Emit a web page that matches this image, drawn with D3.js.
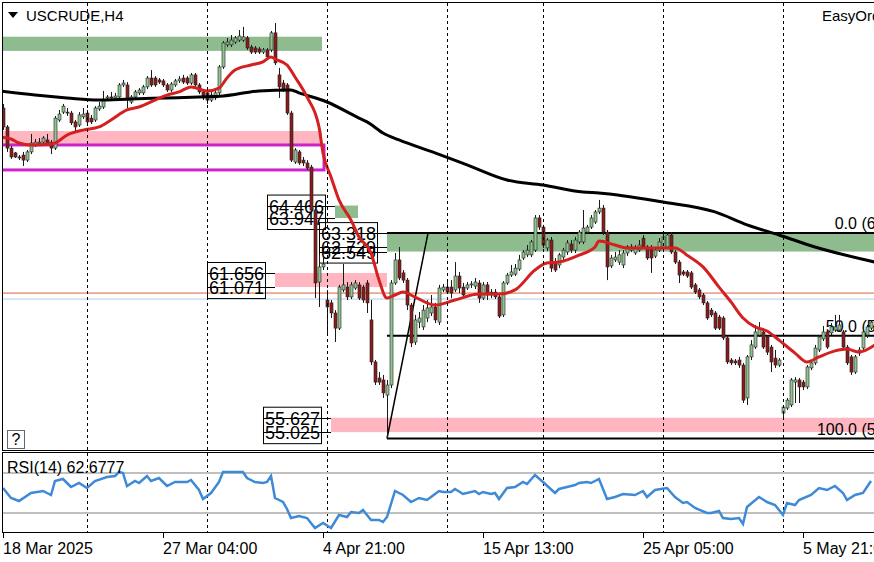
<!DOCTYPE html>
<html>
<head>
<meta charset="utf-8">
<script src="https://cdn.jsdelivr.net/npm/d3@7"></script>
<style>
body{margin:0;background:#fff}
svg{display:block;font-family:'Liberation Sans',Arial,sans-serif}
</style>
</head>
<body>
<svg width="874" height="562"></svg>
<script>
// USCRUDE H4 candles: [open, high, low, close]
var ohlc = [
[68.53,68.70,67.61,67.74],[67.74,67.82,66.70,66.86],[66.86,66.95,66.41,66.49],[66.66,66.70,66.45,66.49],[66.49,66.57,66.36,66.45],
[66.57,66.70,66.11,66.36],[66.36,66.78,66.28,66.70],[66.70,67.45,66.61,67.07],[66.99,67.24,66.91,67.11],[67.07,67.28,66.99,67.11],
[67.11,67.36,67.03,67.28],[67.20,67.45,66.99,67.07],[67.11,67.20,66.61,66.86],[66.86,68.20,66.78,68.11],[68.03,68.45,67.95,68.28],
[68.36,68.70,68.28,68.61],[68.36,68.53,68.20,68.32],[68.32,68.41,67.82,67.91],[67.95,68.03,67.57,67.74],[67.82,68.36,67.74,68.24],
[68.16,68.53,68.07,68.28],[68.32,68.45,67.82,67.95],[68.11,68.24,67.86,67.95],[68.03,68.61,67.95,68.53],[68.49,68.78,68.41,68.61],
[68.57,69.24,68.49,68.86],[68.95,69.07,68.86,68.99],[68.99,69.20,68.86,68.95],[68.95,69.16,68.91,69.03],[68.99,69.57,68.91,69.49],
[69.49,69.70,69.41,69.57],[69.49,69.61,68.53,68.86],[68.78,69.07,68.70,68.99],[68.99,69.28,68.91,69.20],[69.16,69.36,69.07,69.28],
[69.16,69.49,69.07,69.41],[69.41,69.86,69.32,69.78],[69.78,70.11,69.41,69.49],[69.78,69.86,69.41,69.49],[69.70,69.78,69.53,69.61],
[69.66,69.74,69.41,69.49],[69.49,69.57,69.20,69.28],[69.28,69.61,69.20,69.53],[69.49,69.74,69.41,69.66],[69.66,69.86,69.57,69.74],
[69.78,69.91,69.53,69.61],[69.78,69.86,69.49,69.57],[69.57,69.99,69.49,69.91],[69.91,69.99,69.41,69.49],[69.49,69.57,69.11,69.20],
[69.20,69.28,68.86,68.95],[69.16,69.28,68.70,68.86],[68.86,69.20,68.78,69.07],[68.95,69.28,68.86,69.16],[69.16,70.32,69.07,70.24],
[70.24,71.32,70.16,71.24],[71.16,71.45,71.07,71.28],[71.16,71.57,71.07,71.36],[71.28,71.53,71.20,71.45],[71.36,71.78,71.28,71.53],
[71.36,71.91,71.28,71.49],[71.45,71.53,70.95,71.03],[71.07,71.16,70.78,70.86],[71.03,71.11,70.78,70.86],[70.99,71.07,70.78,70.86],
[70.86,71.03,70.78,70.95],[70.95,71.03,70.57,70.66],[70.95,71.74,70.86,71.66],[71.66,72.07,70.32,70.41],[69.91,70.20,68.95,69.41],
[69.57,69.70,69.20,69.28],[69.49,69.57,68.24,68.32],[68.32,68.41,66.28,66.36],[66.28,66.86,66.20,66.78],[66.70,66.78,66.16,66.24],
[66.36,66.49,66.11,66.24],[66.24,66.36,65.95,66.03],[66.07,66.16,64.16,64.28],[64.28,64.36,60.61,61.24],[61.28,62.41,60.24,61.91],
[61.91,62.28,61.78,62.03],[60.53,60.95,59.07,60.24],[60.41,60.53,59.78,59.99],[59.99,60.11,58.78,59.36],[59.36,61.16,59.28,61.07],
[60.95,62.03,60.86,61.16],[61.07,61.28,60.53,60.66],[60.66,61.28,60.57,61.16],[61.03,61.36,60.95,61.24],[61.16,61.28,60.53,60.61],
[61.07,61.16,60.41,60.53],[61.24,61.36,59.99,60.41],[59.70,60.53,57.82,57.95],[57.95,58.03,56.99,57.11],[57.28,57.53,56.99,57.11],
[57.20,57.41,56.45,56.66],[56.57,57.20,54.78,56.99],[56.99,61.36,56.86,61.24],[61.24,62.49,61.16,62.20],[62.20,62.74,61.36,61.45],
[61.66,61.78,61.24,61.36],[61.36,61.45,60.11,60.32],[60.32,60.41,58.57,58.74],[58.78,59.91,58.66,59.70],[59.61,60.03,59.36,59.78],
[59.41,60.32,59.28,60.11],[59.78,60.53,59.61,60.20],[59.99,60.74,59.86,60.24],[60.24,60.41,59.57,59.70],[59.61,61.16,59.49,61.03],
[60.95,61.20,60.86,61.07],[61.07,61.28,60.78,60.86],[61.07,61.36,60.61,60.82],[60.95,62.11,60.86,61.53],[61.53,61.70,60.82,61.03],
[61.07,61.24,60.61,60.74],[61.03,61.28,60.95,61.16],[61.16,61.32,61.03,61.20],[61.11,61.45,60.99,61.28],[61.24,61.36,60.41,60.61],
[60.61,61.28,60.53,61.16],[61.16,61.28,60.53,60.74],[60.86,60.99,60.61,60.74],[60.86,60.99,60.57,60.66],[60.66,60.82,59.78,59.86],
[59.91,61.32,59.82,61.24],[61.24,61.66,61.16,61.57],[61.57,61.99,61.49,61.70],[61.61,62.03,61.53,61.86],[61.82,62.41,61.74,62.20],
[62.28,62.61,62.20,62.53],[62.41,62.82,62.32,62.61],[62.41,63.03,62.32,62.95],[62.61,64.07,62.53,63.95],[63.95,64.07,63.45,63.57],
[63.57,63.66,62.70,62.82],[62.70,63.11,62.57,63.03],[63.03,63.16,61.70,61.86],[62.11,62.28,61.70,61.78],[61.99,62.49,61.86,62.41],
[62.32,62.70,62.20,62.61],[62.53,63.03,62.41,62.91],[62.86,63.03,62.49,62.61],[62.61,63.16,62.49,63.03],[62.95,63.45,62.86,63.36],
[62.95,64.28,62.86,63.53],[63.36,63.66,63.28,63.57],[63.57,64.07,63.49,63.95],[63.78,64.28,63.70,64.20],[64.20,64.70,64.11,64.36],
[64.36,64.49,63.24,63.36],[63.36,63.45,61.36,61.91],[61.95,62.41,61.86,62.28],[62.20,62.53,62.11,62.32],[62.11,62.61,61.99,62.41],
[61.99,62.61,61.86,62.49],[62.49,62.82,62.36,62.74],[62.61,62.86,62.53,62.74],[62.49,62.82,62.41,62.70],[62.61,63.03,62.53,62.82],
[63.11,63.24,62.66,62.74],[62.74,62.82,62.20,62.28],[62.70,62.82,61.66,62.28],[62.36,62.70,62.28,62.61],[62.61,63.11,62.53,62.95],
[62.70,63.32,62.61,63.16],[62.74,63.36,62.66,63.24],[63.24,63.36,62.45,62.53],[62.53,62.61,62.03,62.11],[62.11,62.20,61.24,61.57],
[61.70,61.78,61.53,61.61],[61.70,61.78,61.45,61.53],[61.66,61.74,60.99,61.07],[61.16,61.24,60.78,60.86],[60.95,61.03,60.57,60.66],
[60.74,60.82,60.32,60.41],[60.41,60.49,59.70,59.78],[60.11,60.20,59.82,59.91],[59.99,60.07,59.28,59.36],[59.82,59.91,59.28,59.36],
[59.78,59.86,58.86,58.95],[58.95,59.03,57.86,57.95],[58.03,58.11,57.82,57.91],[57.99,58.07,57.82,57.91],[58.03,58.16,57.70,57.82],
[57.82,57.91,56.24,56.36],[56.45,58.24,56.16,58.16],[58.16,58.86,58.03,58.66],[58.57,59.49,58.49,59.20],[59.07,59.61,58.99,59.36],
[59.20,59.36,58.49,58.57],[58.99,59.07,58.24,58.36],[58.57,58.66,57.53,57.95],[58.11,58.45,57.70,57.82],[57.82,58.11,57.74,58.03],
[55.82,56.16,55.61,56.07],[56.03,56.45,55.95,56.36],[56.16,57.28,56.07,57.20],[57.11,57.32,56.24,57.20],[57.20,57.28,56.24,56.91],
[57.11,57.20,56.78,56.91],[56.91,57.82,56.82,57.74],[57.70,58.03,57.61,57.91],[57.91,58.66,57.82,58.53],[58.45,59.07,58.36,58.99],
[58.91,59.45,58.82,59.20],[59.20,59.28,58.49,58.57],[59.16,59.57,59.07,59.41],[59.28,59.91,59.20,59.41],[59.28,59.91,59.20,59.49],
[59.20,59.28,58.49,58.57],[58.57,58.66,57.82,57.91],[58.16,58.24,57.41,57.53],[57.53,58.24,57.45,58.16],[58.32,58.57,58.20,58.45],
[58.53,59.28,58.45,59.20],[59.07,59.49,58.95,59.41],[59.36,59.70,59.28,59.61]
];

// moving averages: [bar, price]
var fastMa = [[-1,67.32],[2,67.24],[4,67.07],[7,66.99],[12,67.03],[13,67.07],[16,67.40],[20,67.61],[24,67.74],[27,68.03],
[31,68.45],[34,68.57],[38,68.86],[41,69.07],[44,69.20],[47,69.41],[51,69.24],[54,69.36],[56,69.78],[58,70.11],[62,70.32],
[65,70.45],[67,70.66],[68,70.57],[71,70.32],[73,69.82],[76,68.99],[79,67.74],[80,66.66],[82,65.66],[84,64.70],[87,63.86],
[89,63.16],[92,62.49],[94,61.36],[96,60.61],[98,60.74],[100,60.86],[103,60.65],[108,60.32],[113,60.53],[119,60.78],[124,60.78],
[128,60.95],[133,61.78],[136,62.07],[139,62.11],[144,62.40],[148,62.74],[149,62.99],[153,62.82],[156,62.70],[159,62.70],
[164,62.70],[168,62.70],[171,62.40],[175,61.91],[179,61.07],[182,60.45],[185,59.78],[188,59.41],[191,59.24],[194,58.86],
[198,58.32],[201,57.95],[204,58.16],[208,58.41],[211,58.49],[214,58.36],[218,58.66]];
var slowMa = [[-1,69.24],[8,69.07],[16,68.95],[24,68.86],[32,68.91],[41,68.95],[49,68.99],[55,69.03],[64,69.24],[72,69.28],
[74,69.16],[81,68.78],[89,68.11],[91,67.95],[95,67.49],[99,67.20],[108,66.66],[116,66.16],[126,65.53],[135,65.32],[145,65.03],
[149,64.99],[165,64.61],[178,64.20],[186,63.66],[194,63.24],[203,62.74],[218,62.11]];

// RSI(14): [bar, value]
var rsi = [[0,55],[2,45],[4,42],[7,50],[10,52],[12,48],[13,62],[15,64],[17,56],[19,60],[21,55],[23,62],[26,66],[28,67],[29,71],
[30,70],[31,57],[33,62],[34,60],[36,67],[37,62],[39,65],[41,57],[43,61],[46,61],[47,63],[49,53],[50,44],[52,50],[54,61],[55,71],
[57,71],[60,71],[61,65],[63,61],[65,60],[66,61],[67,67],[68,45],[70,41],[71,34],[72,25],[74,27],[76,25],[78,15],[80,20],[82,15],
[84,28],[86,26],[87,31],[89,30],[90,33],[92,23],[94,23],[95,21],[96,26],[98,52],[100,48],[102,41],[104,45],[106,43],[107,46],
[109,52],[110,51],[112,51],[113,54],[115,49],[118,52],[119,49],[120,51],[122,49],[123,50],[124,44],[126,55],[128,56],[130,61],
[131,59],[133,68],[135,61],[138,50],[139,54],[141,56],[143,58],[144,60],[146,61],[147,60],[149,64],[151,44],[153,46],[155,49],
[158,48],[160,52],[161,46],[163,53],[166,55],[168,46],[170,40],[171,41],[173,35],[176,30],[177,30],[179,32],[180,25],[182,24],
[184,25],[185,19],[186,36],[189,46],[191,41],[193,38],[195,28],[196,40],[198,38],[199,43],[202,48],[204,55],[206,53],[208,57],
[210,50],[211,43],[213,48],[215,50],[217,62]];
var rsiLevels = [70, 30];

// zones: [fromBar, toBar, top, bottom]
var greenZones = [[-1,79.75,71.50,70.91],[83,88.75,64.466,63.947],[96,240,63.318,62.549]];
var pinkZones = [[-1,79.75,67.57,66.99],[68,96,61.656,61.071],[82,240,55.627,55.025]];
var magentaBox = [-1,80.25,66.99,65.95];

// price tags
var tagValues = [[64.466,63.947],[63.318,62.729,62.549],[61.656,61.071],[55.627,55.025]];
var tagBars = [[80.5,83],[93.5,96],[65.5,68],[79.5,82]];

// fibo
var fibLevels = [0, 50, 100];
var fibHigh = 63.318, fibLow = 54.76, fibFrom = 96, fibTo = 106.25;

var bid = 60.82, ask = 60.57;
var gridBars = [21,51,81,111,135,165,195];
var tickBars = [0,40,80,120,160,200];
var tickLabels = ['18 Mar 2025','27 Mar 04:00','4 Apr 21:00','15 Apr 13:00','25 Apr 05:00','5 May 21:00'];

var svg = d3.select('svg');
var x = d3.scaleLinear().domain([0,217]).range([3,871]);
var y = d3.scaleLinear().domain([54.24,73.03]).range([451,0]);
var yr = d3.scaleLinear().domain([10,90]).range([533,453]);

var defs = svg.append('defs');
defs.append('clipPath').attr('id','cm').append('rect').attr('x',2).attr('y',3).attr('width',872).attr('height',447);
defs.append('clipPath').attr('id','cr').append('rect').attr('x',2).attr('y',453).attr('width',872).attr('height',80);

var g = svg.append('g').attr('clip-path','url(#cm)');

function zone(d, col){
  g.append('rect').attr('x',x(d[0])).attr('y',y(d[2]))
   .attr('width',x(d[1])-x(d[0])).attr('height',y(d[3])-y(d[2])).attr('fill',col);
}
greenZones.forEach(function(d){ zone(d,'#8fbc8f'); });
pinkZones.forEach(function(d){ zone(d,'#ffb6c1'); });
g.append('rect').attr('x',x(magentaBox[0])).attr('y',y(magentaBox[2]))
 .attr('width',x(magentaBox[1])-x(magentaBox[0])).attr('height',y(magentaBox[3])-y(magentaBox[2]))
 .attr('fill','none').attr('stroke','#cc22cc').attr('stroke-width',3);

// grid
gridBars.forEach(function(b){
  var gx = Math.round(x(b))+0.5;
  svg.append('line').attr('x1',gx).attr('x2',gx).attr('y1',3).attr('y2',451)
    .attr('stroke','#000').attr('stroke-dasharray','3,3');
  svg.append('line').attr('x1',gx).attr('x2',gx).attr('y1',453).attr('y2',533)
    .attr('stroke','#000').attr('stroke-dasharray','3,3');
});

// bid / ask
g.append('line').attr('x1',2).attr('x2',874).attr('y1',y(bid)).attr('y2',y(bid)).attr('stroke','#e0603a').attr('stroke-width',1);
g.append('line').attr('x1',2).attr('x2',874).attr('y1',y(ask)).attr('y2',y(ask)).attr('stroke','#b4cce0').attr('stroke-width',1);

// fibo
fibLevels.forEach(function(l){
  var p = fibHigh - (fibHigh-fibLow)*l/100;
  g.append('line').attr('x1',x(fibFrom)).attr('x2',874).attr('y1',y(p)).attr('y2',y(p))
   .attr('stroke','#000').attr('stroke-width',2);
  g.append('text').attr('x',921).attr('y',y(p)-4).attr('text-anchor','end')
   .attr('font-size',16).attr('fill','#000')
   .text(l.toFixed(1)+' ('+p.toFixed(3)+')');
});
g.append('line').attr('x1',x(fibFrom)).attr('y1',y(fibLow)).attr('x2',x(fibTo)).attr('y2',y(fibHigh))
 .attr('stroke','#000').attr('stroke-width',1.5);

// price tags
tagValues.forEach(function(vals, k){
  var right = x(tagBars[k][0]), end = x(tagBars[k][1]), left = right-58;
  var top = y(vals[0])-11, bot = y(vals[vals.length-1])+11;
  g.append('rect').attr('x',left+0.5).attr('y',top+0.5).attr('width',58).attr('height',bot-top)
   .attr('fill','none').attr('stroke','#000').attr('stroke-width',1);
  vals.forEach(function(v){
    g.append('line').attr('x1',left).attr('x2',end).attr('y1',Math.round(y(v))+0.5).attr('y2',Math.round(y(v))+0.5)
     .attr('stroke','#000').attr('stroke-width',1);
    g.append('text').attr('x',right-1).attr('y',y(v)+7).attr('text-anchor','end')
     .attr('font-size',18).attr('fill','#000').text(v.toFixed(3));
  });
});

// candles
var c = g.selectAll('.c').data(ohlc).enter().append('g');
c.append('line').attr('x1',function(d,i){return x(i)+0.5;}).attr('x2',function(d,i){return x(i)+0.5;})
 .attr('y1',function(d){return y(d[1]);}).attr('y2',function(d){return y(d[2]);})
 .attr('stroke','#1a1a1a').attr('stroke-width',1);
c.append('rect').attr('x',function(d,i){return x(i)-1;}).attr('width',3)
 .attr('y',function(d){return y(Math.max(d[0],d[3]));})
 .attr('height',function(d){return Math.max(1,Math.abs(y(d[0])-y(d[3])));})
 .attr('fill',function(d){return d[3]>=d[0]?'#8fc48f':'#8b1a1a';})
 .attr('stroke','#222').attr('stroke-width',0.6);

// MAs
var ml = d3.line().x(function(d){return x(d[0]);}).y(function(d){return y(d[1]);}).curve(d3.curveMonotoneX);
g.append('path').attr('d',ml(slowMa)).attr('fill','none').attr('stroke','#000').attr('stroke-width',3);
g.append('path').attr('d',ml(fastMa)).attr('fill','none').attr('stroke','#d42020').attr('stroke-width',3);

// RSI panel
var r = svg.append('g').attr('clip-path','url(#cr)');
rsiLevels.forEach(function(v){
  r.append('line').attr('x1',2).attr('x2',874).attr('y1',yr(v)).attr('y2',yr(v)).attr('stroke','#c0c0c0').attr('stroke-width',2);
});
r.append('path').attr('d',d3.line().x(function(d){return x(d[0]);}).y(function(d){return yr(d[1]);})(rsi))
 .attr('fill','none').attr('stroke','#3f8ad6').attr('stroke-width',2.5);
svg.append('text').attr('x',7).attr('y',473).attr('font-size',16).text('RSI(14) 62.6777');

// frames
svg.append('rect').attr('x',2.5).attr('y',2.5).attr('width',880).attr('height',448).attr('fill','none').attr('stroke','#000');
svg.append('rect').attr('x',2.5).attr('y',452.5).attr('width',880).attr('height',80).attr('fill','none').attr('stroke','#000');

// time axis
tickBars.forEach(function(b,i){
  var tx = Math.round(x(b))+0.5;
  svg.append('line').attr('x1',tx).attr('x2',tx).attr('y1',533).attr('y2',538).attr('stroke','#000');
  svg.append('text').attr('x',x(b)).attr('y',554).attr('font-size',16).text(tickLabels[i]);
});

// header
svg.append('path').attr('d','M8,12 L18,12 L13,18 Z').attr('fill','#000');
svg.append('text').attr('x',26).attr('y',21).attr('font-size',15).text('USCRUDE,H4');
svg.append('text').attr('x',822).attr('y',21).attr('font-size',15).text('EasyOrder');
svg.append('rect').attr('x',7.5).attr('y',430.5).attr('width',17).attr('height',18).attr('fill','#fff').attr('stroke','#666');
svg.append('text').attr('x',16).attr('y',445).attr('text-anchor','middle').attr('font-size',16).text('?');
</script>
</body>
</html>
